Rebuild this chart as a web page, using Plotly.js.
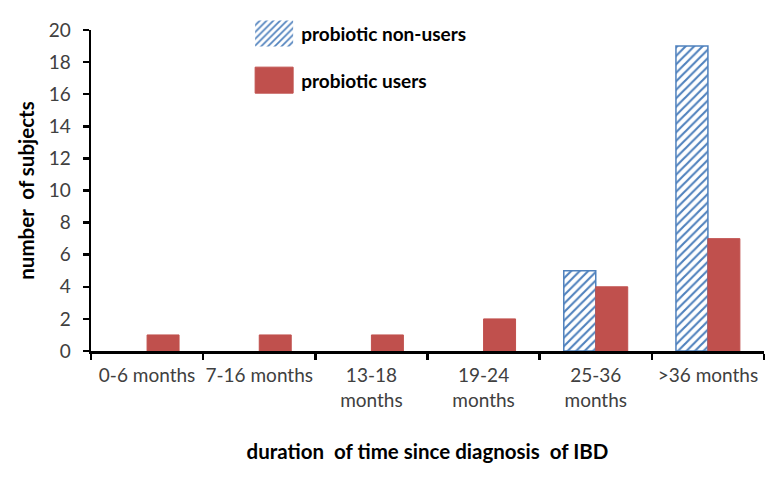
<!DOCTYPE html>
<html>
<head>
<meta charset="utf-8">
<script src="https://cdn.plot.ly/plotly-3.0.1.min.js"></script>
<style>html,body{margin:0;padding:0;background:#fff;}#chart{width:783px;height:478px;}</style>
</head>
<body>
<div id="chart"></div>
<script>
const categories = ["0-6 months", "7-16 months", "13-18<br>months", "19-24<br>months", "25-36<br>months", ">36 months"];
const nonUsers = [0, 0, 0, 0, 5, 19];
const users = [1, 1, 1, 2, 4, 7];
const yTicks = [0, 2, 4, 6, 8, 10, 12, 14, 16, 18, 20];

const FONT = "Lato, 'Open Sans', sans-serif";

const traces = [
  {
    type: "bar", name: "probiotic non-users", x: categories, y: nonUsers,
    legendgroup: "a",
    marker: {
      color: "#ffffff",
      line: {color: "#4f81bd", width: nonUsers.map(v => v > 0 ? 1.5 : 0)},
      pattern: {shape: "/", fgcolor: "#4f81bd", bgcolor: "#ffffff", size: 6, solidity: 0.35}
    },
    hoverinfo: "none"
  },
  {
    type: "bar", name: "probiotic users", x: categories, y: users,
    legendgroup: "b",
    marker: {color: "#c0504d", line: {color: "#c0504d", width: 1}},
    hoverinfo: "none"
  }
];

const layout = {
  width: 783, height: 478,
  margin: {l: 91, r: 19, t: 30, b: 127},
  paper_bgcolor: "#ffffff", plot_bgcolor: "#ffffff",
  font: {family: FONT, size: 19, color: "#404040"},
  barmode: "group",
  bargap: 0.43, bargroupgap: 0,
  showlegend: true,
  legend: {
    x: 0.232, y: 1.048, xanchor: "left", yanchor: "top",
    font: {family: FONT, size: 19, color: "#000000", weight: "bold"},
    itemwidth: 44, traceorder: "grouped", tracegroupgap: 19,
    bgcolor: "rgba(0,0,0,0)", itemclick: false, itemdoubleclick: false
  },
  xaxis: {
    type: "category",
    showline: true, linecolor: "#000000", linewidth: 2.5,
    ticks: "outside", tickson: "boundaries", ticklen: 6, tickwidth: 2.5, tickcolor: "#000000",
    showgrid: false, zeroline: false,
    tickangle: 0,
    ticklabelstandoff: 6,
    tickfont: {family: FONT, size: 19, color: "#404040"},
    title: {text: "duration  of time since diagnosis  of IBD", font: {family: FONT, size: 20.5, color: "#000000", weight: "bold"}, standoff: 35}
  },
  yaxis: {
    range: [0, 20], tickvals: yTicks,
    showline: true, linecolor: "#000000", linewidth: 2.5,
    ticks: "outside", ticklen: 6, tickwidth: 2.5, tickcolor: "#000000",
    showgrid: false, zeroline: false,
    ticklabelstandoff: 8,
    tickfont: {family: FONT, size: 19, color: "#404040"},
    title: {text: "number  of subjects", font: {family: FONT, size: 20.5, color: "#000000", weight: "bold"}, standoff: 9}
  }
};

Plotly.newPlot("chart", traces, layout, {staticPlot: true, displayModeBar: false}).then(function () {
  document.querySelectorAll("#chart .legendpoints path").forEach(function (p) {
    p.setAttribute("d", "M19,13H-19V-13H19Z");
  });
});
</script>
</body>
</html>
